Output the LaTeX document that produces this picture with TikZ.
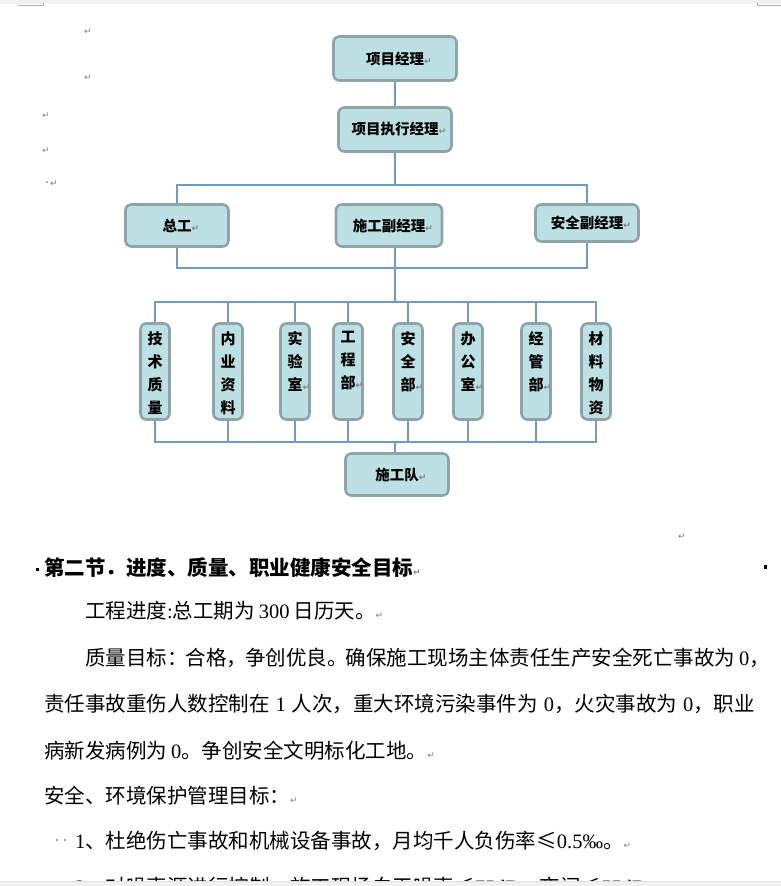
\documentclass[tikz,border=0pt]{standalone}
\usepackage{fontspec}
\setmainfont{Liberation Serif}
\newfontfamily\cjk{Noto Sans CJK SC}
\newfontfamily\symb{DejaVu Sans}
\usetikzlibrary{backgrounds}
\definecolor{boxfill}{HTML}{BCE0E3}
\definecolor{boxline}{HTML}{8FA4A6}
\definecolor{busline}{HTML}{7399C6}
\definecolor{markgray}{HTML}{808080}
\definecolor{bargray}{HTML}{F1F1F1}
\newcommand{\ret}{{\symb\fontsize{9}{9}\selectfont\textcolor{markgray}{↵}}}
\newcommand{\lt}[1]{{\rmfamily #1}}
\newcommand{\ak}{\kern4pt}
\tikzset{
  orgbox/.style={draw=boxline, fill=boxfill, line width=2.6pt, rounded corners=6pt,
    minimum height=42pt, inner sep=0pt, font=\cjk\bfseries\fontsize{14.5}{16}\selectfont},
  vbox/.style={orgbox, minimum width=29pt, minimum height=96pt,
    font=\cjk\bfseries\fontsize{15}{23}\selectfont},
  bus/.style={draw=busline, line width=1.8pt},
  bodytext/.style={anchor=base west, inner sep=0pt, font=\cjk\fontsize{20.5}{24}\selectfont},
  retmark/.style={inner sep=0pt, font=\symb\fontsize{9}{9}\selectfont, text=markgray},
}
\begin{document}
\begin{tikzpicture}[x=1pt,y=-1pt]
  \useasboundingbox (0,0) rectangle (781,886);
  \fill[bargray] (0,0) rectangle (781,4);
  \draw[gray!60,line width=1pt] (18,5.5)--(43.5,5.5)--(43.5,2.5);
  \draw[gray!60,line width=1pt] (781,5.5)--(757,5.5)--(757,2.5);
  \node[retmark] (r1) at (88,32) {↵};
  \node[retmark] (r2) at (88,78) {↵};
  \node[retmark] (r3) at (46,116) {↵};
  \node[retmark] (r4) at (46,151) {↵};
  \node[retmark] (r5) at (54,184) {↵};
  \fill[markgray] (47,182) circle (1pt);
  \node[orgbox,minimum width=123pt,minimum height=44pt] (pm) at (395,58.5) {项目经理\rlap{\ret}};
  \node[orgbox,minimum width=113pt,minimum height=44pt] (epm) at (395,129.5) {项目执行经理\rlap{\ret}};
  \node[orgbox,minimum width=103pt] (zg) at (177,225.5) {总工\rlap{\ret}};
  \node[orgbox,minimum width=106pt] (sg) at (389,225.5) {施工副经理\rlap{\ret}};
  \node[orgbox,minimum width=103pt,minimum height=37pt] (aq) at (587,223) {安全副经理\rlap{\ret}};
  \foreach \i/\x/\t in {1/155/{技\\术\\质\\量}, 2/228/{内\\业\\资\\料}, 3/295/{实\\验\\室\rlap{\ret}},
      4/348/{工\\程\\部\rlap{\ret}}, 5/408/{安\\全\\部\rlap{\ret}}, 6/468/{办\\公\\室\rlap{\ret}},
      7/536/{经\\管\\部\rlap{\ret}}, 8/596/{材\\料\\物\\资}}{
    \node[vbox] (v\i) at (\x,371.5) {\parbox[c][88pt][t]{16pt}{\centering\vspace*{4pt}\t}};
  }
  \node[orgbox,minimum width=103pt] (sgd) at (397,474.5) {施工队\rlap{\ret}};
  \coordinate (b1) at (395,185); \coordinate (b2) at (395,268);
  \coordinate (b3) at (395,302); \coordinate (b4) at (395,442);
  \begin{scope}[on background layer]
    \fill[white] (0,4) rectangle (781,881);
    \draw[bus] (pm) -- (epm);
    \draw[bus] (epm) -- (b1);
    \draw[bus] (zg.north) |- (b1) -| (aq.north);
    \draw[bus] (zg.south) |- (b2) -| (aq.south);
    \draw[bus] (sg.south -| b2) -- (b3);
    \draw[bus] (v1.north) |- (b3) -| (v8.north);
    \draw[bus] (v1.south) |- (b4) -| (v8.south);
    \foreach \i in {2,...,7}{
      \draw[bus] (v\i.north) -- (v\i.north |- b3);
      \draw[bus] (v\i.south) -- (v\i.south |- b4);
    }
    \draw[bus] (b4) -- (b4 |- sgd.north);
  \end{scope}
  \node[retmark] (r6) at (682,537) {↵};
  \fill (35.5,567.5) rectangle (38.5,571);
  \fill (763.5,565) rectangle (766.5,569);
  \node[bodytext,font=\cjk\bfseries\fontsize{20.5}{24}\selectfont] (h1) at (44,575) {第二节．进度、质量、职业健康安全目标\ret};
  \node[bodytext] (p1) at (85,618) {工程进度\lt{:}总工期为\ak\lt{300}\ak 日历天。\ret};
  \node[bodytext] (p2) at (85,665) {质量目标：\kern-2pt 合格，\kern-2pt 争创优良。\kern-2pt 确保施工现场主体责任生产安全死亡事故为\ak\lt{0}，};
  \node[bodytext] (p3) at (44,711) {责任事故重伤人数控制在\kern6pt\lt{1}\kern6pt 人次，重大环境污染事件为\kern6pt\lt{0}，火灾事故为\kern6pt\lt{0}，职业};
  \node[bodytext] (p4) at (44,758) {病新发病例为\ak\lt{0}。争创安全文明标化工地。\ret};
  \node[bodytext] (p5) at (44,803) {安全、环境保护管理目标：\ret};
  \fill[markgray] (57,840) circle (1.1pt) (65,840) circle (1.1pt);
  \node[bodytext] (p6) at (75,848) {\lt{1}、杜绝伤亡事故和机械设备事故，月均千人负伤率≤\lt{0.5‰}。\ret};
  \begin{scope}
    \clip (0,0) rectangle (781,881);
    \node[bodytext] (p7) at (75,894) {\lt{2}、对噪声源进行控制，施工现场白天噪声≤\lt{75dB}，夜间≤\lt{55dB}};
  \end{scope}
  \fill[bargray] (0,881) rectangle (781,886);
  \draw[gray!25,line width=0.6pt] (0,881) -- (781,881);
\end{tikzpicture}
\end{document}
